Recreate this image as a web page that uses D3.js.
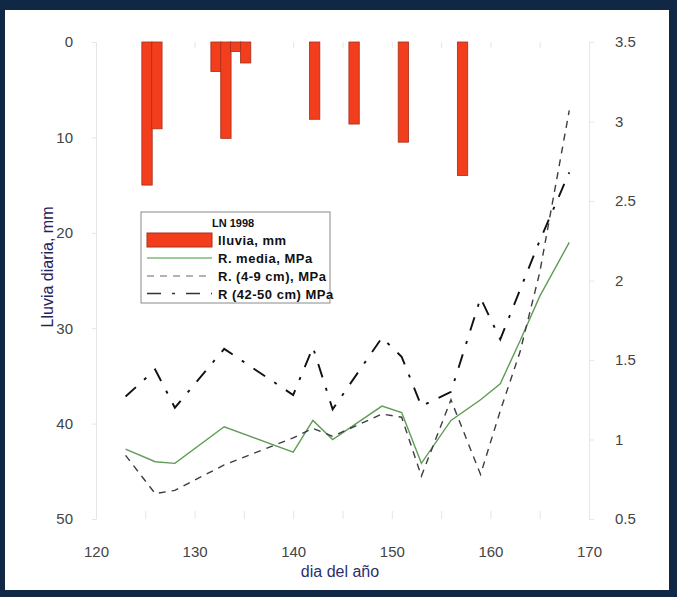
<!DOCTYPE html>
<html>
<head>
<meta charset="utf-8">
<script src="https://cdn.jsdelivr.net/npm/d3@7"></script>
<style>
body { margin: 0; background: #102844; }
svg { display: block; }
</style>
</head>
<body>
<script>
var width = 677,
    height = 597;

// daily rain (day of year -> mm), bars hang from the top
var rainDays = [125, 126, 132, 133, 134, 135, 142, 146, 151, 157];
var rainMm = [15.0, 9.1, 3.1, 10.1, 1.0, 2.2, 8.1, 8.6, 10.5, 14.0];

// penetration resistance, MPa
var days = [123, 126, 128, 133, 140, 142, 144, 149, 151, 153, 156, 159, 161, 163, 165, 168];
var rMedia = [0.94, 0.86, 0.85, 1.08, 0.92, 1.12, 1.00, 1.21, 1.17, 0.85, 1.12, 1.25, 1.35, 1.62, 1.90, 2.24];
var r4to9 = [0.90, 0.66, 0.68, 0.84, 1.01, 1.07, 1.02, 1.16, 1.14, 0.77, 1.25, 0.78, 1.18, 1.55, 2.05, 3.07];
var r42to50 = [1.27, 1.44, 1.20, 1.57, 1.28, 1.58, 1.19, 1.64, 1.52, 1.21, 1.30, 1.89, 1.63, 1.94, 2.25, 2.68];

var rainTicks = [0, 10, 20, 30, 40, 50];
var rTicks = [0.5, 1, 1.5, 2, 2.5, 3, 3.5];
var dayTicks = [120, 130, 140, 150, 160, 170];
var legendTitle = "LN 1998";
var legendLabels = ["lluvia, mm", "R. media, MPa", "R. (4-9 cm), MPa", "R (42-50 cm) MPa"];

var svg = d3.select("body").append("svg")
    .attr("width", width)
    .attr("height", height);

// white panel inside the navy frame
svg.append("rect")
    .attr("x", 5).attr("y", 10)
    .attr("width", 664).attr("height", 580)
    .attr("fill", "#ffffff");

var x = d3.scaleLinear().domain([120, 170]).range([96, 589]);
var yRain = d3.scaleLinear().domain([0, 50]).range([42, 519]);
var yR = d3.scaleLinear().domain([0.5, 3.5]).range([519, 42]);

function styleAxis(g) {
    g.select(".domain").attr("stroke", "#e6e6e6");
    g.selectAll(".tick line").attr("stroke", "#e6e6e6");
    g.selectAll(".tick text")
        .attr("fill", "#444444")
        .style("font-family", "'Liberation Sans', Arial, sans-serif")
        .style("font-size", "15px");
}

// left axis (rain)
svg.append("g")
    .attr("transform", "translate(96,0)")
    .call(d3.axisLeft(yRain).tickValues(rainTicks).tickSizeInner(4).tickSizeOuter(0).tickPadding(19))
    .call(styleAxis);

// right axis (MPa)
svg.append("g")
    .attr("transform", "translate(589,0)")
    .call(d3.axisRight(yR).tickValues(rTicks).tickSizeInner(5).tickSizeOuter(0).tickPadding(21)
        .tickFormat(d3.format("")))
    .call(styleAxis);

// bottom axis
svg.append("g")
    .attr("transform", "translate(0,519)")
    .call(d3.axisBottom(x).tickValues(dayTicks).tickSizeInner(0).tickSizeOuter(0).tickPadding(27))
    .call(styleAxis)
    .call(function (g) { g.select(".domain").remove(); });

// faint day ticks on top and bottom
svg.append("g")
    .attr("transform", "translate(0,42)")
    .call(d3.axisBottom(x).ticks(10).tickSize(6).tickFormat(""))
    .call(styleAxis)
    .call(function (g) { g.select(".domain").remove(); });
svg.append("g")
    .attr("transform", "translate(0,519)")
    .call(d3.axisTop(x).ticks(10).tickSize(8).tickFormat(""))
    .call(styleAxis)
    .call(function (g) { g.select(".domain").remove(); });

// rain bars
svg.selectAll(".bar")
    .data(rainDays)
    .enter()
    .append("rect")
    .attr("class", "bar")
    .attr("x", function (d) { return x(d - 0.35); })
    .attr("width", function (d) { return x(d + 0.7) - x(d - 0.35); })
    .attr("y", yRain(0))
    .attr("height", function (d, i) { return yRain(rainMm[i]) - yRain(0); })
    .attr("fill", "#f23e1d")
    .attr("stroke", "#a3301a")
    .attr("stroke-width", 0.8);

// resistance lines
var series = [
    { values: rMedia, color: "#5f9c55", width: 1.4, dash: null },
    { values: r4to9, color: "#3c3c44", width: 1.4, dash: "7,6" },
    { values: r42to50, color: "#111111", width: 1.9, dash: "14,11,3,11" }
];

var line = d3.line()
    .x(function (d) { return x(d[0]); })
    .y(function (d) { return yR(d[1]); });

series.forEach(function (s) {
    svg.append("path")
        .datum(days.map(function (d, i) { return [d, s.values[i]]; }))
        .attr("fill", "none")
        .attr("stroke", s.color)
        .attr("stroke-width", s.width)
        .attr("stroke-dasharray", s.dash)
        .attr("d", line);
});

// axis titles
svg.append("text")
    .attr("transform", "translate(53,267) rotate(-90)")
    .attr("text-anchor", "middle")
    .attr("fill", "#23235a")
    .style("font-family", "'Liberation Sans', Arial, sans-serif")
    .style("font-size", "16px")
    .text("Lluvia diaria, mm");

svg.append("text")
    .attr("x", 340).attr("y", 577)
    .attr("text-anchor", "middle")
    .attr("fill", "#2e2e6e")
    .style("font-family", "'Liberation Sans', Arial, sans-serif")
    .style("font-size", "16px")
    .text("dia del año");

// legend
var legend = svg.append("g");
legend.append("rect")
    .attr("x", 141).attr("y", 212)
    .attr("width", 189).attr("height", 91)
    .attr("fill", "#ffffff")
    .attr("stroke", "#8a8a8a")
    .attr("stroke-width", 1);

legend.append("text")
    .attr("x", 212).attr("y", 227)
    .attr("fill", "#111")
    .style("font-family", "'Liberation Sans', Arial, sans-serif")
    .style("font-size", "11px")
    .style("font-weight", "bold")
    .text(legendTitle);

var rowY = [240, 258, 276, 293.5];

legend.append("rect")
    .attr("x", 147).attr("y", rowY[0] - 7)
    .attr("width", 65).attr("height", 14)
    .attr("fill", "#f23e1d")
    .attr("stroke", "#a3301a")
    .attr("stroke-width", 1);

var legendLines = [
    { color: "#7dbb7a", width: 1.5, dash: null },
    { color: "#9a9a9a", width: 1.5, dash: "7,6" },
    { color: "#333333", width: 1.5, dash: "14,11,3,11" }
];
legendLines.forEach(function (s, i) {
    legend.append("line")
        .attr("x1", 147).attr("x2", 212)
        .attr("y1", rowY[i + 1]).attr("y2", rowY[i + 1])
        .attr("stroke", s.color)
        .attr("stroke-width", s.width)
        .attr("stroke-dasharray", s.dash);
});

legend.selectAll(".leglabel")
    .data(legendLabels)
    .enter()
    .append("text")
    .attr("class", "leglabel")
    .attr("x", 218)
    .attr("y", function (d, i) { return rowY[i] + 5; })
    .attr("fill", "#111")
    .style("font-family", "'Liberation Sans', Arial, sans-serif")
    .style("font-size", "13px")
    .style("font-weight", "bold")
    .style("letter-spacing", "0.5px")
    .text(function (d) { return d; });
</script>
</body>
</html>
